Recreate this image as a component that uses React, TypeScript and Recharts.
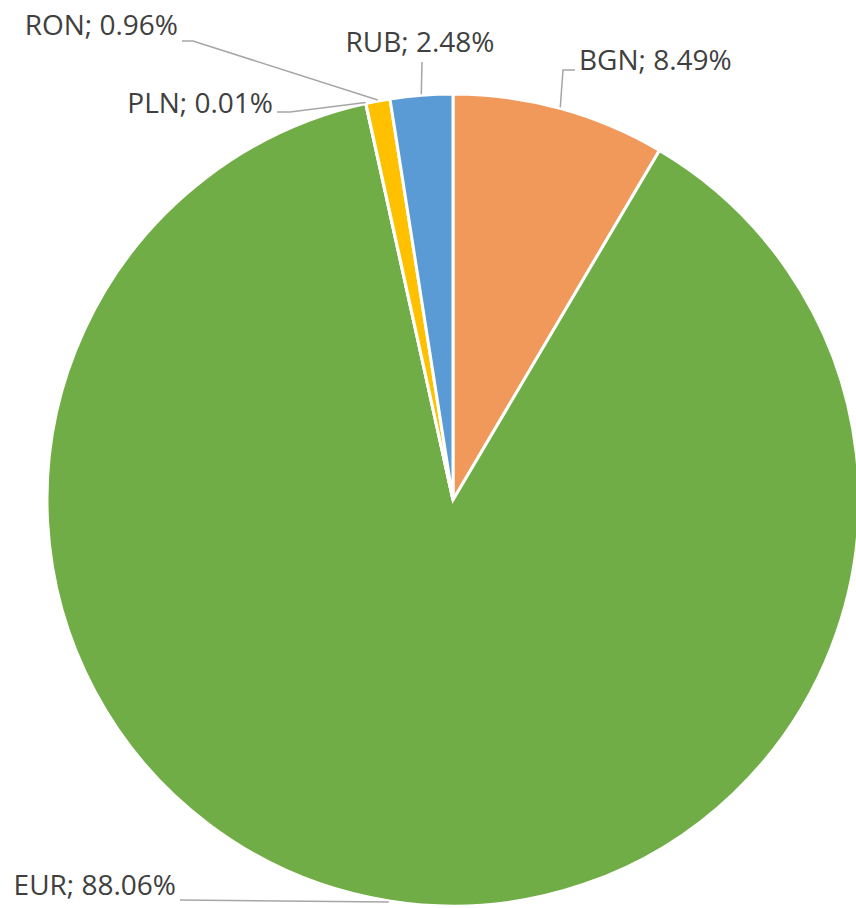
import React from 'react';
import { PieChart, Pie, Cell } from 'recharts';

const currencies = ['BGN', 'EUR', 'PLN', 'RON', 'RUB'];
const shares = [8.49, 88.06, 0.01, 0.96, 2.48];
const colors = ['#F1995B', '#70AD47', '#A5A5A5', '#FFC000', '#5B9BD5'];

const data = currencies.map((name, i) => ({ name, value: shares[i] }));

// label placement (leader elbow/end and text anchor), keyed by category
const labelLayout: Record<string, { pts: [number, number][]; tx: number; ty: number; anchor: 'start' | 'middle' | 'end' }> = {
  BGN: { pts: [[563, 70], [575, 70]], tx: 579, ty: 70, anchor: 'start' },
  EUR: { pts: [[180, 900]], tx: 176, ty: 895, anchor: 'end' },
  PLN: { pts: [[290, 112], [277, 112]], tx: 273, ty: 113, anchor: 'end' },
  RON: { pts: [[193, 41], [182, 41]], tx: 178, ty: 35, anchor: 'end' },
  RUB: { pts: [[422, 62]], tx: 420, ty: 52, anchor: 'middle' },
};

const RAD = Math.PI / 180;

const renderLabel = (props: any) => {
  const { cx, cy, midAngle, outerRadius, name, value } = props;
  const lay = labelLayout[name];
  if (!lay) return null;
  const r = outerRadius + 1;
  const sx = cx + r * Math.cos(-midAngle * RAD);
  const sy = cy + r * Math.sin(-midAngle * RAD);
  const pts = [[sx, sy], ...lay.pts].map((p) => p.join(',')).join(' ');
  return (
    <g key={`lbl-${name}`}>
      <polyline points={pts} fill="none" stroke="#A6A6A6" strokeWidth={1.5} />
      <text
        x={lay.tx}
        y={lay.ty}
        textAnchor={lay.anchor}
        fill="#404040"
        fontSize={28}
        fontFamily="'Open Sans', sans-serif"
      >
        {`${name}; ${Number(value).toFixed(2)}%`}
      </text>
    </g>
  );
};

export default function App() {
  return (
    <div style={{ position: 'absolute', left: 0, top: 0, width: 856, height: 908, background: '#FFFFFF' }}>
      <PieChart width={856} height={908} margin={{ top: 0, right: 0, bottom: 0, left: 0 }}>
        <Pie
          data={data}
          dataKey="value"
          nameKey="name"
          cx={453}
          cy={500}
          outerRadius={406}
          startAngle={90}
          endAngle={-270}
          stroke="#FFFFFF"
          strokeWidth={3}
          label={renderLabel}
          labelLine={false}
          isAnimationActive={false}
        >
          {data.map((d, i) => (
            <Cell key={d.name} fill={colors[i]} />
          ))}
        </Pie>
      </PieChart>
    </div>
  );
}
